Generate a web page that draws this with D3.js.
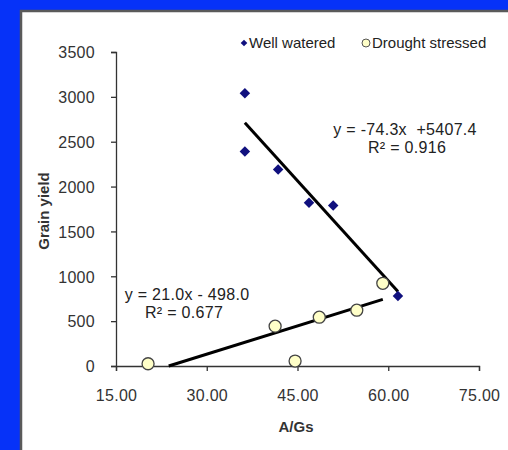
<!DOCTYPE html>
<html>
<head>
<meta charset="utf-8">
<script src="https://cdn.jsdelivr.net/npm/d3@7"></script>
<style>
  body { margin: 0; background: #0632f8; }
  text { font-family: "Liberation Sans", Arial, sans-serif; white-space: pre; }
</style>
</head>
<body>
<svg id="chart" width="508" height="450"></svg>
<script>
// values
const wellX = [36.3, 36.3, 41.8, 46.9, 50.9, 61.6];
const wellY = [3040, 2390, 2190, 1820, 1790, 780];
const droughtX = [20.3, 41.3, 44.6, 48.6, 54.8, 59.1];
const droughtY = [25, 444, 55, 544, 622, 922];
// trendline coefficients printed on the chart
const wellFit = { slope: -74.3, intercept: 5407.4 };
const droughtFit = { slope: 21.0, intercept: -498.0 };
const xTicks = [15, 30, 45, 60, 75];
const yTicks = [0, 500, 1000, 1500, 2000, 2500, 3000, 3500];

var svg = d3.select('#chart');

// white panel with grey frame
svg.append('rect')
    .attr('x', 21).attr('y', 11)
    .attr('width', 520).attr('height', 460)
    .attr('fill', 'white')
    .attr('stroke', '#5a5a5a')
    .attr('stroke-width', 2.5);

var x = d3.scaleLinear().domain([15, 75]).range([116, 479]);
var y = d3.scaleLinear().domain([0, 3500]).range([366, 52]);

// y axis
var yAxis = svg.append('g')
    .attr('transform', 'translate(116,0)')
    .call(d3.axisLeft(y).tickValues(yTicks).tickSize(5).tickPadding(16)
        .tickFormat(d3.format('d')));
// x axis
var xAxis = svg.append('g')
    .attr('transform', 'translate(0,366)')
    .call(d3.axisBottom(x).tickValues(xTicks).tickSize(5).tickPadding(19)
        .tickFormat(d3.format('.2f')));

[yAxis, xAxis].forEach(function (g) {
    g.select('.domain').attr('stroke', '#333').attr('stroke-width', 1.3);
    g.selectAll('.tick line').attr('stroke', '#333').attr('stroke-width', 1.3);
    g.selectAll('.tick text')
        .attr('fill', '#333')
        .style('font-size', '16px')
        .style('letter-spacing', '0.3px');
});
yAxis.selectAll('.tick text').attr('dy', '0.36em');

// axis titles
svg.append('text')
    .attr('x', 296).attr('y', 432)
    .attr('text-anchor', 'middle')
    .style('font-size', '15px').style('font-weight', 'bold')
    .attr('fill', '#333')
    .text('A/Gs');
svg.append('text')
    .attr('transform', 'translate(49,211) rotate(-90)')
    .attr('text-anchor', 'middle')
    .style('font-size', '15px').style('font-weight', 'bold')
    .attr('fill', '#333')
    .text('Grain yield');

// trend lines: Excel spans min..max x, clipped at y = 0
function trend(xs, fit) {
    var x0 = d3.min(xs), x1 = d3.max(xs);
    var zeroX = -fit.intercept / fit.slope;
    if (fit.slope * x0 + fit.intercept < 0) x0 = Math.max(x0, zeroX);
    if (fit.slope * x1 + fit.intercept < 0) x1 = Math.min(x1, zeroX);
    return [[x0, fit.slope * x0 + fit.intercept], [x1, fit.slope * x1 + fit.intercept]];
}
var line = d3.line().x(function (d) { return x(d[0]); }).y(function (d) { return y(d[1]); });
[trend(wellX, wellFit), trend(droughtX, droughtFit)].forEach(function (pts) {
    svg.append('path')
        .attr('d', line(pts))
        .attr('stroke', 'black')
        .attr('stroke-width', 3)
        .attr('fill', 'none');
});

// drought stressed circles
svg.append('g').selectAll('circle')
    .data(d3.zip(droughtX, droughtY))
    .enter()
    .append('circle')
    .attr('cx', function (d) { return x(d[0]); })
    .attr('cy', function (d) { return y(d[1]); })
    .attr('r', 6)
    .attr('fill', '#ffffc8')
    .attr('stroke', '#444')
    .attr('stroke-width', 1.3);

// well watered diamonds (square turned 45 degrees)
var diamond = d3.symbol().type(d3.symbolSquare).size(55);
svg.append('g').selectAll('path')
    .data(d3.zip(wellX, wellY))
    .enter()
    .append('path')
    .attr('d', diamond)
    .attr('transform', function (d) { return 'translate(' + x(d[0]) + ',' + y(d[1]) + ') rotate(45)'; })
    .attr('fill', '#10107e');

// equation labels
function label(lines, cx, cy, anchor) {
    lines.forEach(function (t, i) {
        svg.append('text')
            .attr('x', cx[i]).attr('y', cy + i * 18)
            .attr('text-anchor', anchor)
            .attr('dy', '0.35em')
            .style('font-size', '16px')
            .style('letter-spacing', '0.3px')
            .attr('fill', '#222')
            .text(t);
    });
}
label(['y = -74.3x  +5407.4', 'R\u00b2 = 0.916'], [405, 407], 129, 'middle');
label(['y = 21.0x - 498.0', 'R\u00b2 = 0.677'], [187, 184], 294, 'middle');

// legend
svg.append('path')
    .attr('d', d3.symbol().type(d3.symbolSquare).size(22))
    .attr('transform', 'translate(244,43) rotate(45)')
    .attr('fill', '#10107e');
svg.append('text')
    .attr('x', 249).attr('y', 43).attr('dy', '0.35em')
    .style('font-size', '15px').attr('fill', '#222')
    .text('Well watered');
svg.append('circle')
    .attr('cx', 366).attr('cy', 43).attr('r', 4)
    .attr('fill', '#ffffc8').attr('stroke', '#555').attr('stroke-width', 1);
svg.append('text')
    .attr('x', 372).attr('y', 43).attr('dy', '0.35em')
    .style('font-size', '15px').attr('fill', '#222')
    .text('Drought stressed');
</script>
</body>
</html>
